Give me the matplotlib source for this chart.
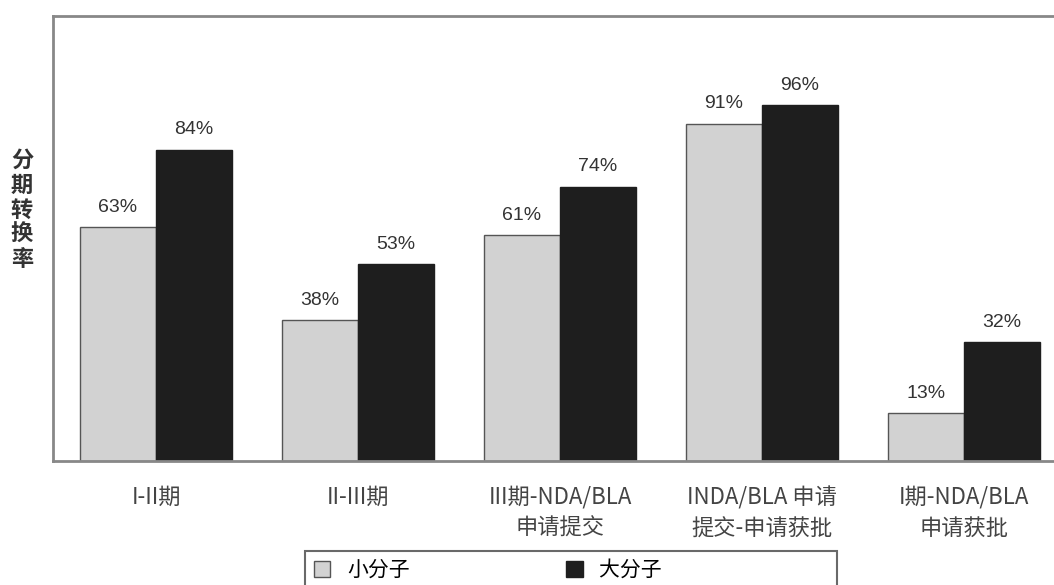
import matplotlib.pyplot as plt
import numpy as np

plt.rcParams['font.family'] = ['Noto Sans CJK SC', 'DejaVu Sans']

stages = ['I-II期', 'II-III期', 'III期-NDA/BLA\n申请提交', 'INDA/BLA 申请\n提交-申请获批', 'I期-NDA/BLA\n申请获批']
small_mol = [63, 38, 61, 91, 13]
large_mol = [84, 53, 74, 96, 32]

fig = plt.figure(figsize=(10.54, 5.85), dpi=100)
ax = fig.add_axes([53 / 1054, 1 - 461 / 585, 1010 / 1054, 445 / 585])

x = np.arange(len(stages))
w = 0.376
b1 = ax.bar(x - w / 2, small_mol, w, color='#d2d2d2', edgecolor='#555555', linewidth=1, label='小分子')
b2 = ax.bar(x + w / 2, large_mol, w, color='#1e1e1e', edgecolor='#1e1e1e', linewidth=1,
            label='大分子' + '\u3000' * 8)

for bars, vals in [(b1, small_mol), (b2, large_mol)]:
    for rect, v in zip(bars, vals):
        ax.text(rect.get_x() + rect.get_width() / 2, v + 3.0, f'{v}%',
                ha='center', va='bottom', fontsize=14, color='#333333',
                family=['Liberation Sans', 'DejaVu Sans'])

ax.set_xlim(-0.51, 4.49)
ax.set_ylim(0, 120)
ax.set_yticks([])
ax.set_xticks(x)
ax.set_xticklabels(stages, fontsize=16, color='#444444', linespacing=1.45)
ax.tick_params(axis='x', length=0, pad=18)
for s in ['left', 'bottom', 'top']:
    ax.spines[s].set_color('#888888')
    ax.spines[s].set_linewidth(2)
ax.spines['right'].set_visible(False)

fig.text(22 / 1054, 1 - 210 / 585, '分\n期\n转\n换\n率', ha='center', va='center',
         fontsize=16, color='#333333', linespacing=1.1, fontweight='bold')

leg = fig.legend(loc='lower left', bbox_to_anchor=(295 / 1054, -0.025), ncol=2,
                 fontsize=15, frameon=True, fancybox=False, edgecolor='#444444',
                 handlelength=0.8, handleheight=0.8, columnspacing=7.5, borderpad=0.4,
                 handletextpad=0.8)
leg.get_frame().set_linewidth(1.5)

fig.savefig('out.png', dpi=100)
